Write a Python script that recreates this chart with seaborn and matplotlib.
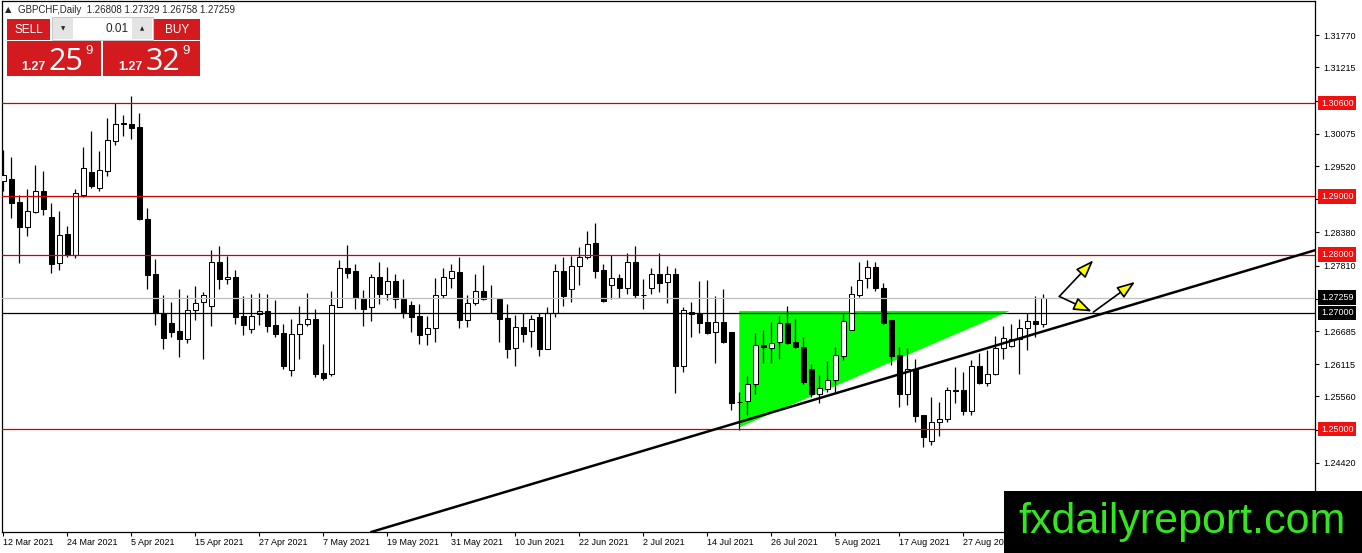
import matplotlib
matplotlib.use('Agg')
import matplotlib.pyplot as plt
import matplotlib.transforms as mtransforms
from matplotlib.patches import Rectangle
import numpy as np
import pandas as pd
import seaborn as sns

# GBPCHF daily candles (bar 0 = 12 Mar 2021)
opens = [1.2926, 1.2929, 1.2890, 1.2848, 1.2873, 1.2910, 1.2864, 1.2786, 1.2835, 1.2799,
         1.2902, 1.2941, 1.2914, 1.2944, 1.2995, 1.3025, 1.3025, 1.3019, 1.2861, 1.2766,
         1.2699, 1.2683, 1.2668, 1.2655, 1.2704, 1.2718, 1.2712, 1.2787, 1.2758, 1.2762,
         1.2694, 1.2672, 1.2697, 1.2703, 1.2679, 1.2665, 1.2601, 1.2663, 1.2681, 1.2689,
         1.2596, 1.2594, 1.2710, 1.2776, 1.2771, 1.2726, 1.2710, 1.2762, 1.2732, 1.2754,
         1.2724, 1.2714, 1.2694, 1.2663, 1.2673, 1.2731, 1.2760, 1.2770, 1.2688, 1.2716,
         1.2737, 1.2725, 1.2724, 1.2691, 1.2639, 1.2675, 1.2669, 1.2692, 1.2638, 1.2699,
         1.2771, 1.2740, 1.2781, 1.2795, 1.2819, 1.2773, 1.2748, 1.2759, 1.2742, 1.2788,
         1.2730, 1.2742, 1.2766, 1.2752, 1.2767, 1.2608, 1.2701, 1.2697, 1.2684, 1.2666,
         1.2684, 1.2667, 1.2547, 1.2548, 1.2578, 1.2645, 1.2640, 1.2650, 1.2683, 1.2649,
         1.2641, 1.2603, 1.2560, 1.2569, 1.2584, 1.2626, 1.2671, 1.2731, 1.2759, 1.2779,
         1.2743, 1.2687, 1.2627, 1.2560, 1.2604, 1.2524, 1.2480, 1.2512, 1.2518, 1.2566,
         1.2567, 1.2531, 1.2608, 1.2580, 1.2594, 1.2639, 1.2643, 1.2654, 1.2673, 1.2685,
         1.26808]
highs = [1.2979, 1.2967, 1.2902, 1.2913, 1.2954, 1.2944, 1.2889, 1.2874, 1.2849, 1.2913,
         1.2985, 1.3013, 1.2978, 1.3034, 1.3060, 1.3039, 1.3072, 1.3043, 1.2880, 1.2792,
         1.2730, 1.2719, 1.2740, 1.2730, 1.2746, 1.2735, 1.2807, 1.2814, 1.2797, 1.2773,
         1.2728, 1.2733, 1.2734, 1.2732, 1.2721, 1.2680, 1.2689, 1.2711, 1.2734, 1.2706,
         1.2647, 1.2737, 1.2791, 1.2816, 1.2783, 1.2739, 1.2766, 1.2787, 1.2778, 1.2767,
         1.2758, 1.2720, 1.2715, 1.2694, 1.2759, 1.2776, 1.2783, 1.2795, 1.2731, 1.2767,
         1.2782, 1.2748, 1.2725, 1.2715, 1.2696, 1.2699, 1.2696, 1.2700, 1.2709, 1.2783,
         1.2795, 1.2797, 1.2813, 1.2840, 1.2854, 1.2783, 1.2800, 1.2766, 1.2803, 1.2815,
         1.2758, 1.2777, 1.2803, 1.2780, 1.2776, 1.2709, 1.2718, 1.2755, 1.2756, 1.2728,
         1.2740, 1.2667, 1.2564, 1.2591, 1.2665, 1.2671, 1.2684, 1.2694, 1.2711, 1.2689,
         1.2658, 1.2611, 1.2593, 1.2617, 1.2641, 1.2697, 1.2746, 1.2787, 1.2790, 1.2787,
         1.2751, 1.2688, 1.2641, 1.2640, 1.2621, 1.2524, 1.2555, 1.2547, 1.2573, 1.2607,
         1.2598, 1.2618, 1.2630, 1.2636, 1.2660, 1.2677, 1.2681, 1.2690, 1.2700, 1.2728,
         1.27329]
lows = [1.2910, 1.2863, 1.2785, 1.2832, 1.2872, 1.2868, 1.2768, 1.2773, 1.2795, 1.2794,
        1.2899, 1.2915, 1.2909, 1.2935, 1.2989, 1.3004, 1.2998, 1.2859, 1.2740, 1.2679,
        1.2638, 1.2658, 1.2624, 1.2648, 1.2688, 1.2621, 1.2677, 1.2740, 1.2749, 1.2681,
        1.2662, 1.2665, 1.2679, 1.2667, 1.2658, 1.2604, 1.2592, 1.2621, 1.2677, 1.2590,
        1.2584, 1.2591, 1.2709, 1.2760, 1.2706, 1.2677, 1.2686, 1.2715, 1.2721, 1.2708,
        1.2691, 1.2667, 1.2646, 1.2645, 1.2650, 1.2725, 1.2743, 1.2673, 1.2676, 1.2713,
        1.2721, 1.2699, 1.2650, 1.2622, 1.2609, 1.2650, 1.2641, 1.2626, 1.2637, 1.2692,
        1.2712, 1.2718, 1.2748, 1.2793, 1.2760, 1.2719, 1.2723, 1.2725, 1.2733, 1.2725,
        1.2707, 1.2733, 1.2736, 1.2717, 1.2562, 1.2598, 1.2658, 1.2665, 1.2663, 1.2614,
        1.2648, 1.2533, 1.2498, 1.2524, 1.2560, 1.2614, 1.2613, 1.2621, 1.2647, 1.2639,
        1.2578, 1.2555, 1.2545, 1.2564, 1.2564, 1.2618, 1.2670, 1.2727, 1.2743, 1.2737,
        1.2681, 1.2610, 1.2538, 1.2541, 1.2513, 1.2470, 1.2473, 1.2488, 1.2513, 1.2545,
        1.2525, 1.2524, 1.2578, 1.2574, 1.2593, 1.2621, 1.2641, 1.2594, 1.2636, 1.2658,
        1.26758]
closes = [1.2936, 1.2889, 1.2847, 1.2874, 1.2910, 1.2878, 1.2784, 1.2834, 1.2799, 1.2905,
          1.2949, 1.2917, 1.2945, 1.2996, 1.3025, 1.3025, 1.3017, 1.2861, 1.2765, 1.2699,
          1.2657, 1.2667, 1.2655, 1.2704, 1.2716, 1.2731, 1.2788, 1.2758, 1.2762, 1.2693,
          1.2679, 1.2695, 1.2703, 1.2677, 1.2663, 1.2609, 1.2664, 1.2680, 1.2690, 1.2595,
          1.2587, 1.2714, 1.2776, 1.2769, 1.2725, 1.2707, 1.2762, 1.2732, 1.2754, 1.2724,
          1.2699, 1.2693, 1.2662, 1.2673, 1.2731, 1.2762, 1.2771, 1.2688, 1.2716, 1.2737,
          1.2723, 1.2725, 1.2690, 1.2637, 1.2675, 1.2664, 1.2690, 1.2638, 1.2700, 1.2771,
          1.2729, 1.2781, 1.2796, 1.2818, 1.2772, 1.2720, 1.2759, 1.2742, 1.2788, 1.2731,
          1.2730, 1.2766, 1.2751, 1.2767, 1.2608, 1.2704, 1.2697, 1.2683, 1.2665, 1.2684,
          1.2650, 1.2545, 1.2547, 1.2578, 1.2645, 1.2641, 1.2648, 1.2683, 1.2648, 1.2641,
          1.2581, 1.2560, 1.2570, 1.2584, 1.2627, 1.2685, 1.2732, 1.2757, 1.2778, 1.2743,
          1.2683, 1.2625, 1.2560, 1.2604, 1.2522, 1.2487, 1.2512, 1.2518, 1.2567, 1.2566,
          1.2531, 1.2608, 1.2580, 1.2594, 1.2639, 1.2657, 1.2654, 1.2673, 1.2685, 1.2680,
          1.27259]

date_labels = ['12 Mar 2021', '24 Mar 2021', '5 Apr 2021', '15 Apr 2021', '27 Apr 2021',
               '7 May 2021', '19 May 2021', '31 May 2021', '10 Jun 2021', '22 Jun 2021',
               '2 Jul 2021', '14 Jul 2021', '26 Jul 2021', '5 Aug 2021', '17 Aug 2021',
               '27 Aug 2021']
date_label_bars = [0, 8, 16, 24, 32, 40, 48, 56, 64, 72, 80, 88, 96, 104, 112, 120]

price_ticks = [1.31770, 1.31215, 1.30645, 1.30075, 1.29520, 1.28950, 1.28380, 1.27810,
               1.27240, 1.26685, 1.26115, 1.25560, 1.24990, 1.24420, 1.23850]

red_levels = [1.30600, 1.29000, 1.28000, 1.25000]
black_level = 1.27000
last_price = 1.27259

# drawn objects
trend_p1 = (92, 1.2512)
trend_p2 = (130, 1.2668)
triangle_bars = [92, 92, 125.8]
triangle_prices = [1.2703, 1.2503, 1.2703]
arrow_from = [(132.0, 1.2728), (132.0, 1.2728), (136.25, 1.2701)]
arrow_to = [(136.25, 1.2790), (136.05, 1.2702), (141.46, 1.2753)]

df = pd.DataFrame({'bar': range(len(opens)), 'open': opens, 'high': highs,
                   'low': lows, 'close': closes})
df['bull'] = df['close'] >= df['open']
df['body_low'] = df[['open', 'close']].min(axis=1)
df['body_h'] = (df['close'] - df['open']).abs().clip(lower=0.00003)

sns.set_style('white')
plt.rcParams['font.family'] = ['Liberation Sans', 'DejaVu Sans']

W, H = 1362, 553
fig = plt.figure(figsize=(W / 100, H / 100), dpi=100)
ax = fig.add_axes([2 / W, 21 / H, 1313 / W, 531.5 / H])

ax.fill(triangle_bars, triangle_prices, color='#00ff00', lw=0, zorder=1)

ax.vlines(df['bar'], df['low'], df['high'], color='black', lw=0.9, zorder=3)
ax.bar(df['bar'], df['body_h'], bottom=df['body_low'], width=0.64,
       color=np.where(df['bull'], 'white', 'black'), edgecolor='black',
       linewidth=0.75, zorder=4)

for lv in red_levels:
    ax.axhline(lv, color='#d00000', lw=0.9, zorder=5)
ax.axhline(last_price, color='#c0c0c0', lw=0.9, zorder=5)
ax.axhline(black_level, color='black', lw=0.9, zorder=5)

ax.axline(trend_p1, trend_p2, color='black', lw=1.8, zorder=6)

for a, b in zip(arrow_from, arrow_to):
    ax.annotate('', xy=b, xytext=a, zorder=7,
                arrowprops=dict(arrowstyle='-|>,head_length=1.1,head_width=0.4',
                                fc='#ffff00', ec='black', lw=1.2,
                                shrinkA=0, shrinkB=0, mutation_scale=10))

ax.set_xlim(-0.16, 163.96)
ax.set_ylim(1.23231, 1.32366)

ax.yaxis.tick_right()
ax.set_yticks(price_ticks)
ax.set_yticklabels([f'{v:.5f}' for v in price_ticks])
ax.tick_params(axis='y', right=True, left=False, direction='out', length=3,
               width=0.8, pad=3, labelsize=6.5, colors='black')
ax.set_xticks(date_label_bars)
ax.set_xticklabels(date_labels, ha='left')
ax.tick_params(axis='x', bottom=True, direction='out', length=3, width=0.8,
               pad=1.5, labelsize=6.5, colors='black')
for sp in ax.spines.values():
    sp.set_color('black')
    sp.set_linewidth(0.9)

# price tags on the right scale
tag_tr = mtransforms.blended_transform_factory(ax.transAxes, ax.transData)
tag_x = 1 + 6 / 1313
for lv in red_levels:
    ax.text(tag_x, lv, f'{lv:.5f}', transform=tag_tr, color='white', fontsize=6.5,
            va='center', ha='left', clip_on=False, zorder=8,
            bbox=dict(boxstyle='square,pad=0.3', fc='#f01010', ec='none'))
for lv in [last_price, black_level]:
    ax.text(tag_x, lv, f'{lv:.5f}', transform=tag_tr, color='white', fontsize=6.5,
            va='center', ha='left', clip_on=False, zorder=8,
            bbox=dict(boxstyle='square,pad=0.3', fc='black', ec='none'))

# overlay: header, trade panel, watermark
ov = fig.add_axes([0, 0, 1, 1], zorder=10)
ov.set_xlim(0, W)
ov.set_ylim(H, 0)
ov.axis('off')
ov.patch.set_alpha(0)

ov.text(8, 10, '\u25b2', fontsize=6, family='DejaVu Sans', va='center', ha='center')
ov.text(18, 10, 'GBPCHF,Daily  1.26808 1.27329 1.26758 1.27259', fontsize=7, va='center')

red = '#d21a1f'
ov.add_patch(Rectangle((7, 19), 43, 21, fc=red, ec='none'))
ov.text(28.5, 30, 'SELL', color='white', fontsize=8.5, ha='center', va='center')
ov.add_patch(Rectangle((154, 19), 46, 21, fc=red, ec='none'))
ov.text(177, 30, 'BUY', color='white', fontsize=8.5, ha='center', va='center')

ov.add_patch(Rectangle((52, 17), 101, 23, fc='white', ec='#c8c8c8', lw=0.8))
ov.add_patch(Rectangle((53, 18), 20, 21, fc='#e4e4e4', ec='none'))
ov.add_patch(Rectangle((132, 18), 20, 21, fc='#e4e4e4', ec='none'))
ov.text(63, 28.5, '\u25bc', fontsize=4, family='DejaVu Sans', ha='center', va='center')
ov.text(142, 28.5, '\u25b2', fontsize=4, family='DejaVu Sans', ha='center', va='center')
ov.text(129, 28.5, '0.01', fontsize=8.5, ha='right', va='center')

ov.add_patch(Rectangle((7, 41), 94, 35, fc=red, ec='none'))
ov.add_patch(Rectangle((103, 41), 97, 35, fc=red, ec='none'))
for x0, big in [(21, '25'), (118, '32')]:
    ov.text(x0, 70, '1.27', color='white', fontsize=9, fontweight='bold', va='baseline')
    ov.text(x0 + 28, 70, big, color='white', fontsize=22, family=['Open Sans', 'DejaVu Sans'],
            va='baseline')
    ov.text(x0 + 64, 45, '9', color='white', fontsize=9.5, va='top')

ov.add_patch(Rectangle((1004, 491), W - 1004, H - 491, fc='black', ec='none'))
ov.text(1182, 533, 'fxdailyreport.com', color='#33e61f', fontsize=31,
        ha='center', va='baseline')

fig.savefig('out.png', dpi=100)
